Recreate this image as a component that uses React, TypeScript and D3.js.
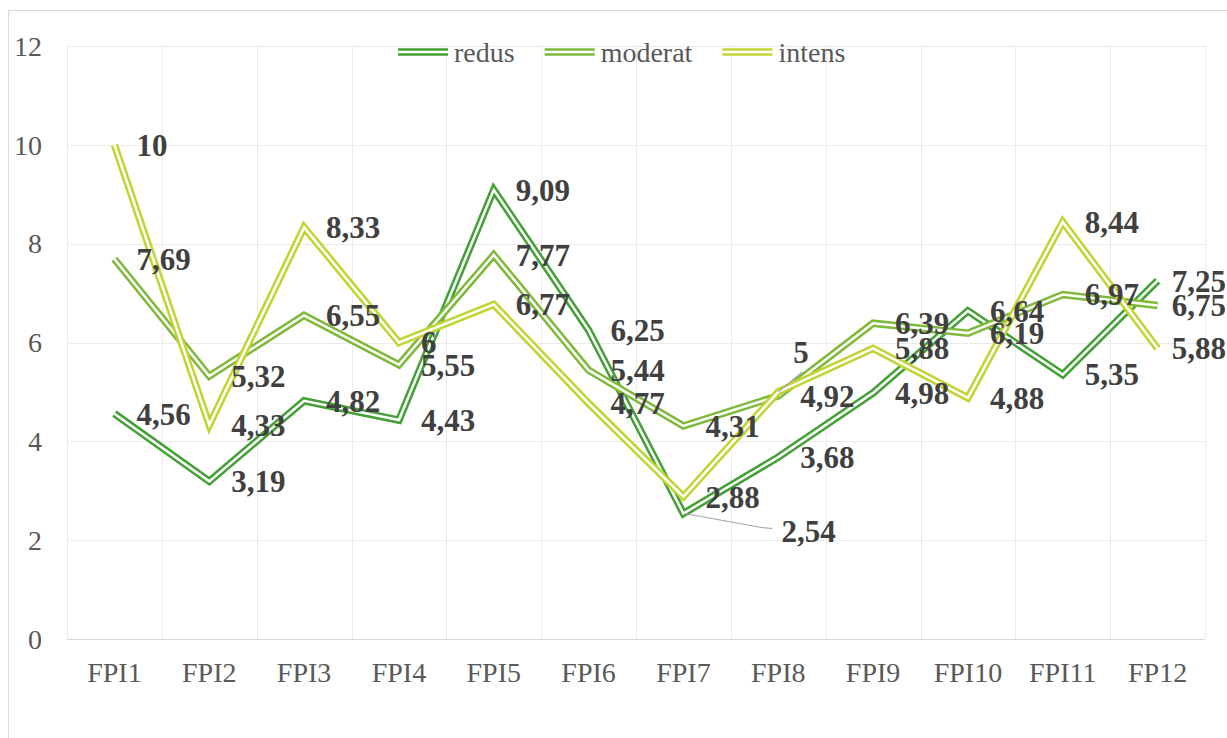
import React, { useEffect, useRef } from 'react';
import * as d3 from 'd3';

const categories = ['FPI1', 'FPI2', 'FPI3', 'FPI4', 'FPI5', 'FPI6', 'FPI7', 'FPI8', 'FPI9', 'FPI10', 'FPI11', 'FP12'];
const redus = [4.56, 3.19, 4.82, 4.43, 9.09, 6.25, 2.54, 3.68, 4.98, 6.64, 5.35, 7.25];
const moderat = [7.69, 5.32, 6.55, 5.55, 7.77, 5.44, 4.31, 4.92, 6.39, 6.19, 6.97, 6.75];
const intens = [10, 4.33, 8.33, 6, 6.77, 4.77, 2.88, 5, 5.88, 4.88, 8.44, 5.88];
const seriesNames = ['redus', 'moderat', 'intens'];
const yTicks = [0, 2, 4, 6, 8, 10, 12];

const colors = ['#43A035', '#7EB93A', '#C0D432'];

// labels that were dragged away from their point in the original (with leader lines)
const movedLabels: Record<string, { dx: number; dy: number; leader: [number, number][] }> = {
  'intens-7': { dx: 15, dy: -40, leader: [[0, 0], [24, -20]] },
  'redus-6': { dx: 98, dy: 18, leader: [[1, 0], [78, 14], [89, 15]] },
};

const W = 1227;
const H = 738;
const FONT = '"Liberation Serif", "Times New Roman", serif';

const App: React.FC = () => {
  const svgRef = useRef<SVGSVGElement | null>(null);

  useEffect(() => {
    if (!svgRef.current) return;
    const svg = d3.select(svgRef.current);
    svg.selectAll('*').remove();

    const left = 67;
    const right = 1205;
    const top = 46;
    const bottom = 639;

    const x = d3.scaleBand<string>().domain(categories).range([left, right]).padding(0);
    const y = d3.scaleLinear().domain([0, 12]).range([bottom, top]);
    const cx = (c: string) => (x(c) || 0) + x.bandwidth() / 2;

    // chart border
    svg.append('rect')
      .attr('x', 8.5).attr('y', 10.5)
      .attr('width', 1300).attr('height', 800)
      .attr('fill', 'white').attr('stroke', '#d9d9d9');

    // gridlines
    svg.append('g')
      .selectAll('line')
      .data(yTicks)
      .enter()
      .append('line')
      .attr('x1', left).attr('x2', right)
      .attr('y1', (d) => Math.round(y(d)) + 0.5)
      .attr('y2', (d) => Math.round(y(d)) + 0.5)
      .attr('stroke', (d) => (d === 0 ? '#d9d9d9' : '#ebebeb'))
      .attr('stroke-width', 1);

    const vlines = categories.map((c) => x(c) || 0).concat([right]);
    svg.append('g')
      .selectAll('line')
      .data(vlines)
      .enter()
      .append('line')
      .attr('x1', (d) => Math.round(d) + 0.5).attr('x2', (d) => Math.round(d) + 0.5)
      .attr('y1', top).attr('y2', bottom)
      .attr('stroke', '#ebebeb');

    // y tick labels
    svg.append('g')
      .selectAll('text')
      .data(yTicks)
      .enter()
      .append('text')
      .attr('x', 42)
      .attr('y', (d) => y(d))
      .attr('dy', '0.35em')
      .attr('text-anchor', 'end')
      .style('font-family', FONT)
      .style('font-size', '28px')
      .style('fill', '#595959')
      .text((d) => d);

    // x tick labels
    svg.append('g')
      .selectAll('text')
      .data(categories)
      .enter()
      .append('text')
      .attr('x', (d) => cx(d))
      .attr('y', 672)
      .attr('dy', '0.35em')
      .attr('text-anchor', 'middle')
      .style('font-family', FONT)
      .style('font-size', '28px')
      .style('fill', '#595959')
      .text((d) => d);

    const allSeries = [redus, moderat, intens];
    const line = d3
      .line<number>()
      .x((_, i) => cx(categories[i]))
      .y((d) => y(d));

    // double (compound) lines
    allSeries.forEach((vals, si) => {
      const g = svg.append('g');
      g.append('path')
        .attr('d', line(vals) || '')
        .attr('fill', 'none')
        .attr('stroke', colors[si])
        .attr('stroke-width', 7.5)
        .attr('stroke-linejoin', 'miter');
      g.append('path')
        .attr('d', line(vals) || '')
        .attr('fill', 'none')
        .attr('stroke', 'white')
        .attr('stroke-width', 2.5)
        .attr('stroke-linejoin', 'miter');
    });

    // data labels
    const labels = svg.append('g');
    allSeries.forEach((vals, si) => {
      vals.forEach((v, i) => {
        const px = cx(categories[i]);
        const py = y(v);
        const key = `${seriesNames[si]}-${i}`;
        const moved = movedLabels[key];
        let tx = px + 22;
        let ty = py;
        if (moved) {
          tx = px + moved.dx;
          ty = py + moved.dy;
          const pts = moved.leader.map(([a, b]) => [px + a, py + b] as [number, number]);
          labels.append('path')
            .attr('d', d3.line()(pts) || '')
            .attr('fill', 'none')
            .attr('stroke', '#a6a6a6')
            .attr('stroke-width', 1.2);
        }
        const t = labels.append('text')
          .attr('x', tx)
          .attr('y', ty)
          .attr('dy', '0.35em')
          .style('font-family', FONT)
          .style('font-size', '31px')
          .style('font-weight', 'bold')
          .style('fill', '#404040')
          .text(String(v).replace('.', ','));
        const w = (t.node() as SVGTextElement).getComputedTextLength();
        if (tx + w > W - 1) t.attr('x', W - 1 - w);
      });
    });

    // legend
    const legend = svg.append('g');
    let lx = 398;
    const ly = 52;
    seriesNames.forEach((name, si) => {
      legend.append('line')
        .attr('x1', lx).attr('x2', lx + 50)
        .attr('y1', ly).attr('y2', ly)
        .attr('stroke', colors[si]).attr('stroke-width', 7.5);
      legend.append('line')
        .attr('x1', lx).attr('x2', lx + 50)
        .attr('y1', ly).attr('y2', ly)
        .attr('stroke', 'white').attr('stroke-width', 2.5);
      const t = legend.append('text')
        .attr('x', lx + 56)
        .attr('y', ly)
        .attr('dy', '0.35em')
        .style('font-family', FONT)
        .style('font-size', '28px')
        .style('fill', '#595959')
        .text(name);
      const w = (t.node() as SVGTextElement).getComputedTextLength();
      lx = lx + 56 + w + 30;
    });
  }, []);

  return (
    <svg
      ref={svgRef}
      width={W}
      height={H}
      style={{ position: 'absolute', left: 0, top: 0, background: 'white' }}
    />
  );
};

export default App;
